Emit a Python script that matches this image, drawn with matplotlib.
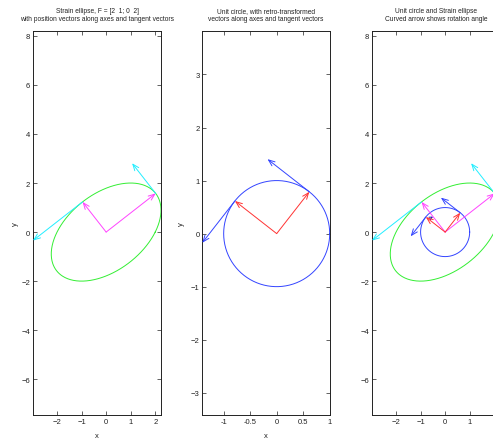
import numpy as np
import matplotlib.pyplot as plt
from matplotlib.patches import FancyArrowPatch

plt.rcParams['font.family'] = ['Liberation Sans', 'DejaVu Sans']

# deformation gradient
F = np.array([[2.0, 1.0],
              [0.0, 2.0]])

titles = [["Strain ellipse, F = [2  1; 0  2]",
           "with position vectors along axes and tangent vectors"],
          ["Unit circle, with retro-transformed",
           "vectors along axes and tangent vectors"],
          ["Unit circle and Strain ellipse",
           "Curved arrow shows rotation angle"]]

xticks_ell = [-2, -1, 0, 1, 2]
yticks_ell = [-6, -4, -2, 0, 2, 4, 6, 8]
xticks_circ = [-1, -0.5, 0, 0.5, 1]
xticklabels_circ = ['-1', '-0.5', '0', '0.5', '1']
yticks_circ = [-3, -2, -1, 0, 1, 2, 3]

GREEN = '#33ee33'
CYAN = '#22eeff'
MAGENTA = '#ff44ff'
RED = '#ff3333'
BLUE = '#3344ff'

# principal directions (svd of F)
U, S, Vt = np.linalg.svd(F)
V = Vt.T
if U[0, 0] < 0:
    U[:, 0] *= -1
    V[:, 0] *= -1
R90 = np.array([[0, -1], [1, 0]])
v1 = V[:, 0]
v2 = R90 @ v1
p1 = F @ v1          # major axis position vector on ellipse
p2 = F @ v2          # minor axis position vector
t1 = F @ (R90 @ v1)  # tangent at p1
t2 = F @ (R90 @ v2)  # tangent at p2

th = np.linspace(0, 2 * np.pi, 361)
circ = np.vstack([np.cos(th), np.sin(th)])
ell = F @ circ


def arrow(ax, start, vec, color):
    ax.annotate('', xy=(start[0] + vec[0], start[1] + vec[1]),
                xytext=(start[0], start[1]),
                arrowprops=dict(arrowstyle='->,head_length=0.45,head_width=0.18',
                                color=color, lw=0.7, shrinkA=0, shrinkB=0))


def style(ax):
    ax.tick_params(direction='in', top=True, right=True, length=3, width=0.5,
                   labelsize=5.5, pad=2, colors='#222222')
    for s in ax.spines.values():
        s.set_linewidth(0.7)
        s.set_color('#222222')


fig = plt.figure(figsize=(4.93, 4.39), dpi=100)
bot, h = 1 - 416 / 439, 384 / 439
ax1 = fig.add_axes([33 / 493, bot, 128 / 493, h])
ax2 = fig.add_axes([202.3 / 493, bot, 127.4 / 493, h])
ax3 = fig.add_axes([372 / 493, bot, 128 / 493, h])

o = np.zeros(2)

# panel 1: strain ellipse
ax1.plot(ell[0], ell[1], color=GREEN, lw=0.7)
arrow(ax1, o, p1, MAGENTA)
arrow(ax1, o, p2, MAGENTA)
arrow(ax1, p1, t1, CYAN)
arrow(ax1, p2, t2, CYAN)

# panel 2: unit circle
ax2.plot(circ[0], circ[1], color=BLUE, lw=0.7)
arrow(ax2, o, v1, RED)
arrow(ax2, o, v2, RED)
arrow(ax2, v1, R90 @ v1, BLUE)
arrow(ax2, v2, R90 @ v2, BLUE)

# panel 3: both
ax3.plot(ell[0], ell[1], color=GREEN, lw=0.7)
ax3.plot(circ[0], circ[1], color=BLUE, lw=0.7)
arrow(ax3, o, p1, MAGENTA)
arrow(ax3, o, p2, MAGENTA)
arrow(ax3, p1, t1, CYAN)
arrow(ax3, p2, t2, CYAN)
arrow(ax3, o, v1, RED)
arrow(ax3, o, v2, RED)
arrow(ax3, v1, R90 @ v1, BLUE)
arrow(ax3, v2, R90 @ v2, BLUE)
a0 = np.arctan2(v2[1], v2[0])
a1 = np.arctan2(p2[1], p2[0])
r = 0.8
ax3.add_patch(FancyArrowPatch((r * np.cos(a0), r * np.sin(a0)),
                              (r * np.cos(a1), r * np.sin(a1)),
                              connectionstyle='arc3,rad=-0.15',
                              arrowstyle='->,head_length=2,head_width=1',
                              color='#2222aa', lw=0.7))

for ax, tt in zip([ax1, ax2, ax3], titles):
    style(ax)
    ax.set_title(tt[0] + '\n' + tt[1], fontsize=4.8, color='#222222', pad=8,
                 linespacing=1.25)

ax1.set_xlim(-2.98, 2.236)
ax1.set_ylim(-7.46, 8.2)
ax1.set_xticks(xticks_ell)
ax1.set_yticks(yticks_ell)
ax1.set_xlabel('x', fontsize=5.5, color='#222222', labelpad=5)
ax1.set_ylabel('y', fontsize=5.5, color='#222222', labelpad=2)

ax2.set_xlim(-1.403, 1.0)
ax2.set_ylim(-3.42, 3.82)
ax2.set_xticks(xticks_circ)
ax2.set_xticklabels(xticklabels_circ)
ax2.set_yticks(yticks_circ)
ax2.set_xlabel('x', fontsize=5.5, color='#222222', labelpad=5)
ax2.set_ylabel('y', fontsize=5.5, color='#222222', labelpad=4)

ax3.set_xlim(-2.98, 2.236)
ax3.set_ylim(-7.46, 8.2)
ax3.set_xticks(xticks_ell)
ax3.set_yticks(yticks_ell)

fig.savefig('out.png', dpi=100)
